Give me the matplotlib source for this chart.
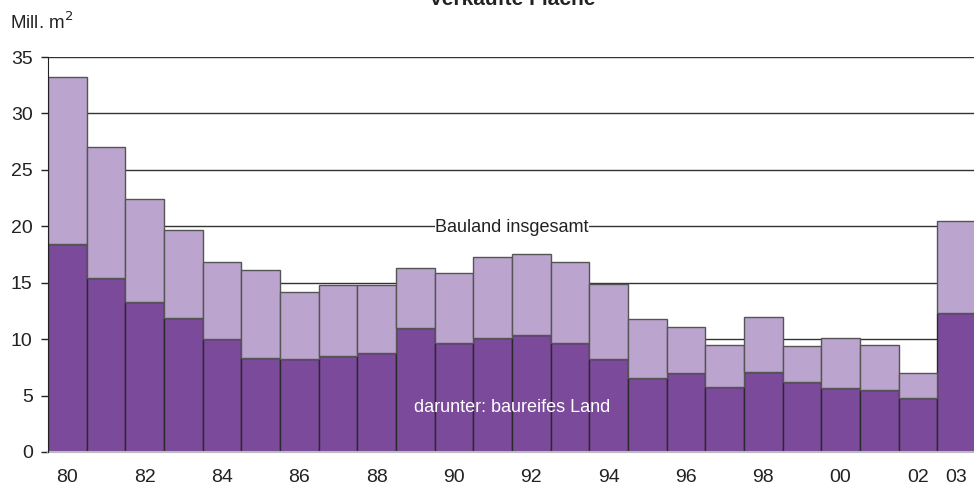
import matplotlib
matplotlib.use("Agg")
from matplotlib import pyplot as plt
import numpy as np

# Verkaufte Flaeche, Mill. m2
years = ["80", "81", "82", "83", "84", "85", "86", "87", "88", "89", "90", "91",
         "92", "93", "94", "95", "96", "97", "98", "99", "00", "01", "02", "03"]
bauland_insgesamt = [33.2, 27.0, 22.4, 19.7, 16.8, 16.1, 14.2, 14.8, 14.8, 16.3, 15.9, 17.3,
                     17.5, 16.8, 14.9, 11.8, 11.1, 9.5, 12.0, 9.4, 10.1, 9.5, 7.0, 20.5]
baureifes_land = [18.4, 15.4, 13.3, 11.9, 10.0, 8.3, 8.2, 8.5, 8.8, 11.0, 9.7, 10.1,
                  10.4, 9.7, 8.2, 6.6, 7.0, 5.8, 7.1, 6.2, 5.7, 5.5, 4.8, 12.3]
tick_labels = ["80", "82", "84", "86", "88", "90", "92", "94", "96", "98", "00", "02", "03"]

plt.rcParams['font.family'] = ['Liberation Sans', 'DejaVu Sans']

fig = plt.figure(figsize=(9.74, 4.91), dpi=100)
ax = fig.add_axes([48 / 974, 1 - 452 / 491, 1 - 48 / 974 + 0.002, 395 / 491])

x = np.arange(len(years))
rest = np.array(bauland_insgesamt) - np.array(baureifes_land)

# Gitterlinien hinter den Balken
for yv in range(5, 40, 5):
    ax.axhline(yv, color="#333333", linewidth=1.0, zorder=0)

ax.bar(x, baureifes_land, width=1.0, color="#7b4a9a", edgecolor="#2a2a2a", linewidth=1.0, zorder=2)
ax.bar(x, rest, bottom=baureifes_land, width=1.0, color="#bba4cd", edgecolor="#555555",
       linewidth=1.0, zorder=2)

ax.set_xlim(-0.5, 23.5)
ax.set_ylim(0, 35)
ax.set_yticks(range(0, 40, 5))
ax.set_yticklabels([str(v) for v in range(0, 40, 5)], fontsize=14, color="#222222")

tick_pos = [years.index(t) for t in tick_labels]
ax.set_xticks(tick_pos)
ax.set_xticklabels(tick_labels, fontsize=14, color="#222222")
ax.tick_params(axis="x", length=0, pad=12)
ax.tick_params(axis="y", length=5, width=1, color="#222222", pad=6)

for s in ["top", "right"]:
    ax.spines[s].set_visible(False)
ax.spines["left"].set_color("#222222")
ax.spines["left"].set_zorder(3)
ax.spines["bottom"].set_color("#bbbbbb")
ax.spines["bottom"].set_linewidth(1.5)

ax.text(11.5, 19.9, "Bauland insgesamt", ha="center", va="center", fontsize=13,
        color="#222222", zorder=4,
        bbox=dict(facecolor="white", edgecolor="none", pad=0.5))
ax.text(11.5, 3.9, "darunter: baureifes Land", ha="center", va="center", fontsize=13,
        color="white", zorder=4)

fig.text(10 / 974, 1 - 22 / 491, "Mill. m$^2$", ha="left", va="center", fontsize=13.5,
         color="#222222")
fig.text(512 / 974, 1 + 1 / 491, "Verkaufte Fläche", ha="center", va="center", fontsize=15,
         fontweight="bold", color="#222222")

plt.savefig("out.png", dpi=100)
plt.close()
